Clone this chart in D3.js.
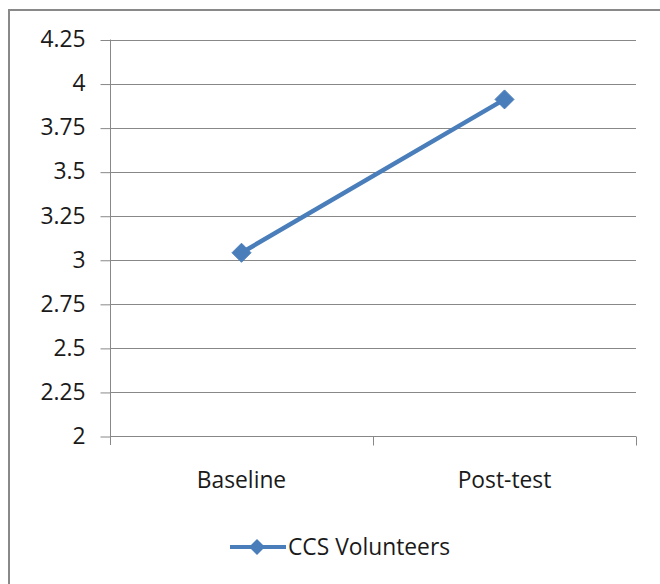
<!DOCTYPE html>
<html>
<head>
<meta charset="utf-8">
<script src="https://cdn.jsdelivr.net/npm/d3@7"></script>
<style>
  html, body { margin: 0; padding: 0; background: #fff; }
  svg { display: block; }
  text { font-family: "Open Sans", "Liberation Sans", sans-serif; fill: #1a1a1a; }
</style>
</head>
<body>
<svg id="chart" width="660" height="584"></svg>
<script>
// Mean scores for the CCS volunteer group at each measurement point
const categories = ["Baseline", "Post-test"];
const seriesName = "CCS Volunteers";
const values = [3.04, 3.91];
const yTicks = [2, 2.25, 2.5, 2.75, 3, 3.25, 3.5, 3.75, 4, 4.25];
const yTickLabels = ["2", "2.25", "2.5", "2.75", "3", "3.25", "3.5", "3.75", "4", "4.25"];

const svg = d3.select("#chart");
const W = 660, H = 584;
const margin = { left: 110, right: 24, top: 39.5, bottom: 148 };
const lineColor = "#4a7ebb";
const gridColor = "#888888";
const fontSize = "22.8px";

// Outer frame of the chart area
svg.append("rect")
  .attr("x", 9).attr("y", 10)
  .attr("width", W + 20).attr("height", H + 20)
  .attr("fill", "none")
  .attr("stroke", "#898989")
  .attr("stroke-width", 2);

const x = d3.scaleBand()
  .domain(categories)
  .range([margin.left, W - margin.right])
  .paddingInner(0).paddingOuter(0);

const y = d3.scaleLinear()
  .domain([2, 4.25])
  .range([H - margin.bottom, margin.top]);

// Horizontal gridlines
svg.append("g")
  .selectAll("line")
  .data(yTicks.filter(t => t !== 2))
  .join("line")
  .attr("x1", margin.left).attr("x2", W - margin.right)
  .attr("y1", d => Math.round(y(d)) + 0.5).attr("y2", d => Math.round(y(d)) + 0.5)
  .attr("stroke", gridColor)
  .attr("stroke-width", 1);

// Y axis
const yAxis = d3.axisLeft(y)
  .tickValues(yTicks)
  .tickFormat((d, i) => yTickLabels[i])
  .tickSize(10)
  .tickPadding(15)
  .tickSizeOuter(0);

const gy = svg.append("g")
  .attr("transform", `translate(${margin.left + 0.5},0)`)
  .call(yAxis);
gy.select(".domain").attr("stroke", gridColor).attr("d", `M0,${margin.top}V${H - margin.bottom + 9}`);
gy.selectAll(".tick line").attr("stroke", gridColor)
  .attr("transform", "translate(0,0.5)");
gy.selectAll(".tick text")
  .style("font-size", fontSize)
  .attr("fill", "#1a1a1a");

// X axis: category ticks at band boundaries
const gx = svg.append("g")
  .attr("transform", `translate(0,${Math.round(y(2)) + 0.5})`);
gx.append("line")
  .attr("x1", margin.left).attr("x2", W - margin.right)
  .attr("stroke", gridColor);
const boundaries = [x(categories[0]) + x.bandwidth(), x(categories[1]) + x.bandwidth()];
gx.selectAll("line.tk")
  .data(boundaries)
  .join("line")
  .attr("class", "tk")
  .attr("x1", d => Math.round(d) + 0.5).attr("x2", d => Math.round(d) + 0.5)
  .attr("y1", 0).attr("y2", 9)
  .attr("stroke", gridColor);
gx.selectAll("text")
  .data(categories)
  .join("text")
  .attr("x", d => x(d) + x.bandwidth() / 2)
  .attr("y", 51)
  .attr("text-anchor", "middle")
  .style("font-size", fontSize)
  .text(d => d);

// Series line
const pts = categories.map((c, i) => [x(c) + x.bandwidth() / 2, y(values[i])]);
svg.append("path")
  .attr("d", d3.line()(pts))
  .attr("fill", "none")
  .attr("stroke", lineColor)
  .attr("stroke-width", 4.5)
  .attr("stroke-linecap", "round");

// Diamond markers
const diamond = r => `M0,${-r}L${r},0L0,${r}L${-r},0Z`;
svg.append("g")
  .selectAll("path")
  .data(pts)
  .join("path")
  .attr("transform", d => `translate(${d[0]},${d[1]})`)
  .attr("d", diamond(9.5))
  .attr("fill", lineColor)
  .attr("stroke", lineColor)
  .attr("stroke-width", 1);

// Legend
const lg = svg.append("g").attr("transform", "translate(230,547)");
lg.append("line")
  .attr("x1", 0).attr("x2", 56)
  .attr("stroke", lineColor)
  .attr("stroke-width", 4);
lg.append("path")
  .attr("transform", "translate(27,0)")
  .attr("d", diamond(8))
  .attr("fill", lineColor);
lg.append("text")
  .attr("x", 58)
  .attr("y", 8)
  .style("font-size", fontSize)
  .text(seriesName);
</script>
</body>
</html>
